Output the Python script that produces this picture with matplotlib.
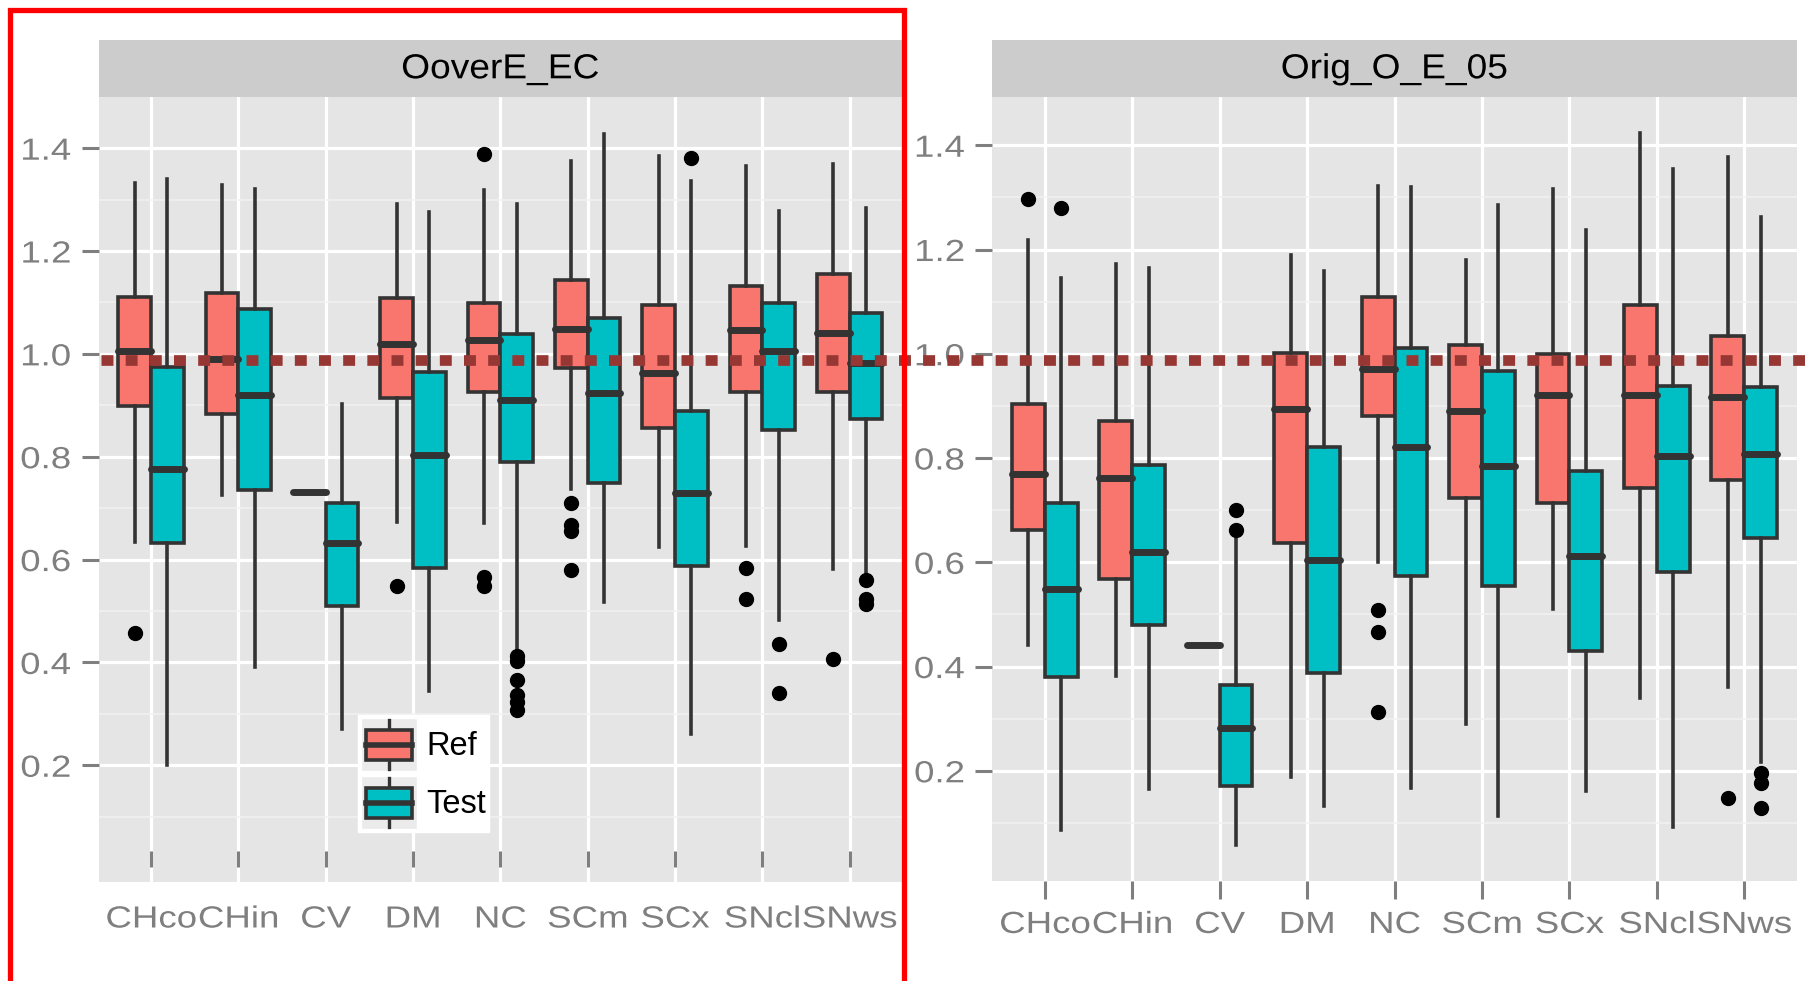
import matplotlib
matplotlib.use("Agg")
import matplotlib.pyplot as plt
import numpy as np
from matplotlib.patches import Rectangle, Patch
from matplotlib.lines import Line2D
from matplotlib.legend_handler import HandlerBase
from matplotlib.patheffects import AbstractPathEffect
from matplotlib.transforms import Affine2D

plt.rcParams['font.family'] = ['Liberation Sans', 'DejaVu Sans']

# ---------------- data ----------------
categories = ['CHco', 'CHin', 'CV', 'DM', 'NC', 'SCm', 'SCx', 'SNcl', 'SNws']
panel_titles = ['OoverE_EC', 'Orig_O_E_05']
groups = ['Ref', 'Test']
yticks = [0.2, 0.4, 0.6, 0.8, 1.0, 1.2, 1.4]
ref_line_value = 0.988

# OoverE_EC - Ref
ec_ref_lo = [0.635, 0.726, 0.731, 0.674, 0.672, 0.738, 0.624, 0.627, 0.582]
ec_ref_q1 = [0.898, 0.883, 0.731, 0.915, 0.926, 0.973, 0.855, 0.926, 0.926]
ec_ref_med = [1.006, 0.990, 0.731, 1.020, 1.027, 1.048, 0.963, 1.047, 1.041]
ec_ref_q3 = [1.111, 1.119, 0.731, 1.109, 1.099, 1.144, 1.095, 1.133, 1.156]
ec_ref_hi = [1.333, 1.328, 0.731, 1.291, 1.318, 1.375, 1.385, 1.365, 1.370]
ec_ref_out = [[0.458], [], [], [0.548], [1.388, 0.567, 0.549],
              [0.711, 0.668, 0.656, 0.579], [], [0.584, 0.524], [0.407]]

# OoverE_EC - Test
ec_test_lo = [0.201, 0.392, 0.271, 0.344, 0.422, 0.517, 0.260, 0.483, 0.567]
ec_test_q1 = [0.632, 0.735, 0.509, 0.583, 0.789, 0.749, 0.587, 0.852, 0.874]
ec_test_med = [0.777, 0.920, 0.632, 0.803, 0.911, 0.923, 0.730, 1.006, 0.983]
ec_test_q3 = [0.975, 1.088, 0.711, 0.965, 1.038, 1.069, 0.889, 1.099, 1.080]
ec_test_hi = [1.341, 1.320, 0.903, 1.276, 1.292, 1.428, 1.337, 1.278, 1.284]
ec_test_out = [[], [], [], [], [0.412, 0.402, 0.366, 0.337, 0.324, 0.308],
               [], [1.380], [0.436, 0.341], [0.560, 0.524, 0.514]]

# Orig_O_E_05 - Ref
oe_ref_lo = [0.442, 0.382, 0.441, 0.189, 0.601, 0.290, 0.510, 0.339, 0.361]
oe_ref_q1 = [0.661, 0.567, 0.441, 0.637, 0.881, 0.724, 0.714, 0.743, 0.758]
oe_ref_med = [0.769, 0.761, 0.441, 0.894, 0.970, 0.891, 0.920, 0.921, 0.917]
oe_ref_q3 = [0.904, 0.872, 0.441, 1.001, 1.109, 1.016, 1.000, 1.093, 1.034]
oe_ref_hi = [1.218, 1.173, 0.441, 1.190, 1.321, 1.179, 1.317, 1.423, 1.378]
oe_ref_out = [[1.296], [], [], [], [0.508, 0.466, 0.312], [], [], [], [0.148]]

# Orig_O_E_05 - Test
oe_test_lo = [0.087, 0.165, 0.058, 0.133, 0.167, 0.114, 0.162, 0.092, 0.216]
oe_test_q1 = [0.380, 0.480, 0.171, 0.388, 0.573, 0.554, 0.430, 0.581, 0.646]
oe_test_med = [0.549, 0.619, 0.283, 0.604, 0.821, 0.785, 0.613, 0.803, 0.808]
oe_test_q3 = [0.713, 0.787, 0.364, 0.821, 1.012, 0.966, 0.776, 0.939, 0.936]
oe_test_hi = [1.146, 1.165, 0.654, 1.159, 1.319, 1.285, 1.237, 1.354, 1.262]
oe_test_out = [[1.279], [], [0.700, 0.661], [], [], [], [], [], [0.196, 0.177, 0.129]]

# ---------------- style ----------------
REF_COLOR = '#F8766D'
TEST_COLOR = '#00BFC4'
EDGE = '#333333'
GRAY_TXT = '#7F7F7F'
PANEL_BG = '#E5E5E5'
STRIP_BG = '#CCCCCC'


class Stretch(AbstractPathEffect):
    """Horizontally stretch text glyphs about an anchor (the original looks widened)."""

    def __init__(self, sx, anchor='center'):
        super().__init__()
        self.sx = sx
        self.anchor = anchor

    def draw_path(self, renderer, gc, tpath, affine, rgbFace=None):
        ext = tpath.get_extents(affine)
        if self.anchor == 'right':
            cx = ext.x1
        elif self.anchor == 'left':
            cx = ext.x0
        else:
            cx = 0.5 * (ext.x0 + ext.x1)
        aff = affine + Affine2D().translate(-cx, 0).scale(self.sx, 1.0).translate(cx, 0)
        renderer.draw_path(gc, tpath, aff, rgbFace)


W, H = 1806, 981
fig = plt.figure(figsize=(W / 100, H / 100), dpi=100)
fig.patch.set_facecolor('white')


def px_axes(l, t, r, b):
    return [l / W, 1 - b / H, (r - l) / W, (b - t) / H]


axL = fig.add_axes(px_axes(98.7, 97.3, 902, 882))
axR = fig.add_axes(px_axes(992.4, 97.3, 1796.7, 880.8))
axes_h_px = [882 - 97.3, 880.8 - 97.3]
ylims = [(-0.027, 1.499), (-0.011, 1.492)]


def stats(lo, q1, med, q3, hi, out):
    return [dict(whislo=a, q1=b, med=c, q3=d, whishi=e, fliers=f)
            for a, b, c, d, e, f in zip(lo, q1, med, q3, hi, out)]


panel_data = [
    (stats(ec_ref_lo, ec_ref_q1, ec_ref_med, ec_ref_q3, ec_ref_hi, ec_ref_out),
     stats(ec_test_lo, ec_test_q1, ec_test_med, ec_test_q3, ec_test_hi, ec_test_out)),
    (stats(oe_ref_lo, oe_ref_q1, oe_ref_med, oe_ref_q3, oe_ref_hi, oe_ref_out),
     stats(oe_test_lo, oe_test_q1, oe_test_med, oe_test_q3, oe_test_hi, oe_test_out)),
]

x = np.arange(1, len(categories) + 1)
bw = 0.375
TICK_FS = 22
TICK_SX = 1.2

for i, ax in enumerate([axL, axR]):
    ax.set_facecolor(PANEL_BG)
    ref_stats, test_stats = panel_data[i]
    for st, off, col in [(ref_stats, -bw / 2, REF_COLOR), (test_stats, bw / 2, TEST_COLOR)]:
        ax.bxp(st, positions=x + off, widths=bw, patch_artist=True,
               showcaps=False, manage_ticks=False,
               boxprops=dict(facecolor=col, edgecolor=EDGE, linewidth=2.6),
               medianprops=dict(color=EDGE, linewidth=5.0, solid_capstyle='round'),
               whiskerprops=dict(color=EDGE, linewidth=2.6),
               flierprops=dict(marker='o', markerfacecolor='black',
                               markeredgecolor='black', markersize=10))
    ax.set_xlim(0.4, len(categories) + 0.6)
    ax.set_ylim(*ylims[i])
    ax.set_xticks(x)
    ax.set_xticklabels(categories)
    ax.set_yticks(yticks)
    ax.set_yticklabels([f'{v:.1f}' for v in yticks])
    ax.set_yticks(np.arange(0.1, 1.4, 0.2), minor=True)
    ax.set_axisbelow(True)
    ax.grid(which='major', color='white', linewidth=2.3)
    ax.grid(which='minor', axis='y', color='#F2F2F2', linewidth=1.1)
    for s in ax.spines.values():
        s.set_visible(False)
    ax.tick_params(axis='y', which='major', direction='out', length=12, width=2.2,
                   color=GRAY_TXT, pad=8, labelsize=TICK_FS, labelcolor=GRAY_TXT)
    ax.tick_params(axis='y', which='minor', length=0)
    # strip
    sh = 57 / axes_h_px[i]
    ax.add_patch(Rectangle((0, 1), 1, sh, transform=ax.transAxes,
                           facecolor=STRIP_BG, edgecolor='none', clip_on=False))
    ax.text(0.5, 1 + sh / 2, panel_titles[i], transform=ax.transAxes,
            ha='center', va='center', fontsize=25, color='black',
            path_effects=[Stretch(1.07, 'center')])

# left panel: x ticks drawn inside the panel
axL.spines['bottom'].set_position(('axes', 15 / axes_h_px[0]))
axL.tick_params(axis='x', direction='in', length=11.5, width=2.2, color=GRAY_TXT,
                pad=27, labelsize=TICK_FS, labelcolor=GRAY_TXT)
axR.tick_params(axis='x', direction='out', length=13, width=2.2, color=GRAY_TXT,
                pad=8, labelsize=TICK_FS, labelcolor=GRAY_TXT)

for ax in (axL, axR):
    for lab in ax.get_xticklabels():
        lab.set_path_effects([Stretch(TICK_SX, 'center')])
    for lab in ax.get_yticklabels():
        lab.set_path_effects([Stretch(TICK_SX, 'right')])


# ---------------- legend ----------------
class BoxHandler(HandlerBase):
    def create_artists(self, legend, orig_handle, xdescent, ydescent,
                       width, height, fontsize, trans):
        x0, y0 = -xdescent, -ydescent
        fc = orig_handle.get_facecolor()
        bg = Rectangle((x0, y0), width, height, facecolor='#EBEBEB',
                       edgecolor='white', linewidth=1, transform=trans)
        cx = x0 + width / 2
        wl = Line2D([cx, cx], [y0 + height * 0.04, y0 + height * 0.96],
                    color=EDGE, linewidth=2.4, transform=trans)
        bxw = width * 0.82
        box = Rectangle((cx - bxw / 2, y0 + height * 0.21), bxw, height * 0.56,
                        facecolor=fc, edgecolor=EDGE, linewidth=2.6, transform=trans)
        med = Line2D([cx - bxw / 2, cx + bxw / 2], [y0 + height * 0.49] * 2,
                     color=EDGE, linewidth=4.0, transform=trans)
        return [bg, wl, box, med]


handles = [Patch(facecolor=REF_COLOR), Patch(facecolor=TEST_COLOR)]
leg = axL.legend(handles, groups, handler_map={Patch: BoxHandler()},
                 loc='lower left', bbox_to_anchor=(0.323, 50 / axes_h_px[0]),
                 borderaxespad=0, frameon=True, fancybox=False,
                 facecolor='white', edgecolor='white', framealpha=1,
                 fontsize=23.5, handlelength=1.69, handleheight=2.12,
                 labelspacing=0.15, borderpad=0.1, handletextpad=0.3)
leg.set_zorder(5)

# ---------------- overlay: dotted reference line and red frame ----------------
fig.canvas.draw()
disp = axL.transData.transform((1, ref_line_value))
fy = fig.transFigure.inverted().transform(disp)[1]
lw_pt = 7.7
fig.add_artist(Line2D([101 / W, 1.0], [fy, fy], transform=fig.transFigure,
                      color='#973734', linewidth=lw_pt,
                      linestyle=(0, (8.6 / lw_pt, 8.8 / lw_pt)),
                      solid_capstyle='butt', dash_capstyle='butt', zorder=10))

fig.add_artist(Rectangle((10 / W, -0.05), 894 / W, 1.05 - 10 / H,
                         transform=fig.transFigure, fill=False,
                         edgecolor='#FF0000', linewidth=3.8, zorder=11))

fig.savefig('out.png', dpi=100)
